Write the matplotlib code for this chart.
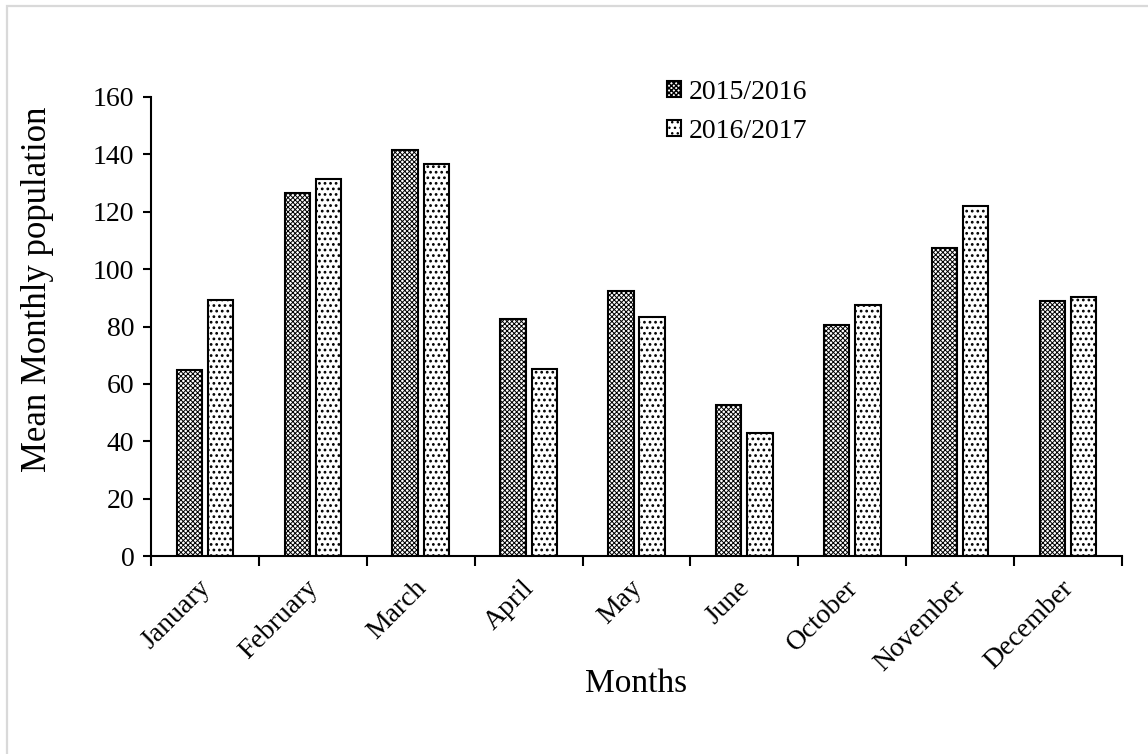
# -*- coding: utf-8 -*-
# Mean monthly population, 2015/2016 vs 2016/2017

import numpy as np
import matplotlib
matplotlib.use("Agg")
import matplotlib.pyplot as plt
from matplotlib.patches import Rectangle
from matplotlib.transforms import ScaledTranslation

plt.rcParams['font.family'] = 'Liberation Serif'
plt.rcParams['hatch.linewidth'] = 0.7
plt.rcParams['savefig.facecolor'] = 'white'

# data
months = ["January", "February", "March", "April", "May", "June",
          "October", "November", "December"]
season_1 = [64.8, 126.4, 141.5, 82.6, 92.4, 52.7, 80.5, 107.4, 88.8]
season_2 = [89.2, 131.3, 136.7, 65.1, 83.2, 42.8, 87.4, 122.0, 90.3]
series_labels = ["2015/2016", "2016/2017"]
y_ticks = [0, 20, 40, 60, 80, 100, 120, 140, 160]

fig = plt.figure(figsize=(11.48, 7.54), dpi=100)
ax = fig.add_axes([151/1148, 1 - 556/754, (1122 - 151)/1148, (556 - 97)/754])

i = np.arange(len(months))
w = 0.235
off = 0.145

b1 = ax.bar(i - off, season_1, w, facecolor='white', edgecolor='black',
            linewidth=1.5, hatch='xxxxxxx', label=series_labels[0])
b2 = ax.bar(i + off, season_2, w, facecolor='white', edgecolor='black',
            linewidth=1.5, hatch='...', label=series_labels[1])
# thicker dots for the second series, if this matplotlib supports it
for p in b2:
    if hasattr(p, 'set_hatch_linewidth'):
        p.set_hatch_linewidth(1.2)

# axes
ax.set_xlim(-0.5, len(months) - 0.5)
ax.set_ylim(0, 160)
ax.set_yticks(y_ticks)
ax.set_xticks(np.arange(len(months) + 1) - 0.5)
ax.set_xticklabels([])
ax.set_xticks(i, minor=True)
ax.set_xticklabels(months, minor=True, rotation=45, ha='right',
                   rotation_mode='anchor', fontsize=20)
ax.tick_params(axis='x', which='minor', length=0, pad=14)
ax.tick_params(axis='x', which='major', length=7, width=1.5, direction='out')
ax.tick_params(axis='y', length=6, width=1.5, direction='out', labelsize=20, pad=6)

# nudge month labels a little to the left
shift = ScaledTranslation(-7/100, 0, fig.dpi_scale_trans)
for lab in ax.get_xticklabels(minor=True):
    lab.set_transform(lab.get_transform() + shift)

for s in ['top', 'right']:
    ax.spines[s].set_visible(False)
for s in ['left', 'bottom']:
    ax.spines[s].set_linewidth(1.5)

ax.set_ylabel('Mean Monthly population', fontsize=25)
ax.yaxis.set_label_coords(-0.100, 0.582)
ax.set_xlabel('Months', fontsize=24)
ax.xaxis.set_label_coords(0.4995, -0.245)

# legend
leg = ax.legend(loc='upper left', bbox_to_anchor=(667/1148, 1 - 80/754),
                bbox_transform=fig.transFigure, frameon=False, fontsize=20,
                handlelength=0.5, handleheight=0.5, handletextpad=0.3,
                labelspacing=0.5, borderpad=0, borderaxespad=0)
for h in leg.legend_handles:
    if hasattr(h, 'set_hatch_linewidth'):
        h.set_hatch_linewidth(1.0)

# light grey chart-area border
fig.patches.append(Rectangle((7/1148, -0.1), 1.2, 1 - 6/754 + 0.1,
                             transform=fig.transFigure, fill=False,
                             edgecolor='#d9d9d9', linewidth=1.6))

fig.savefig('out.png', dpi=100)
